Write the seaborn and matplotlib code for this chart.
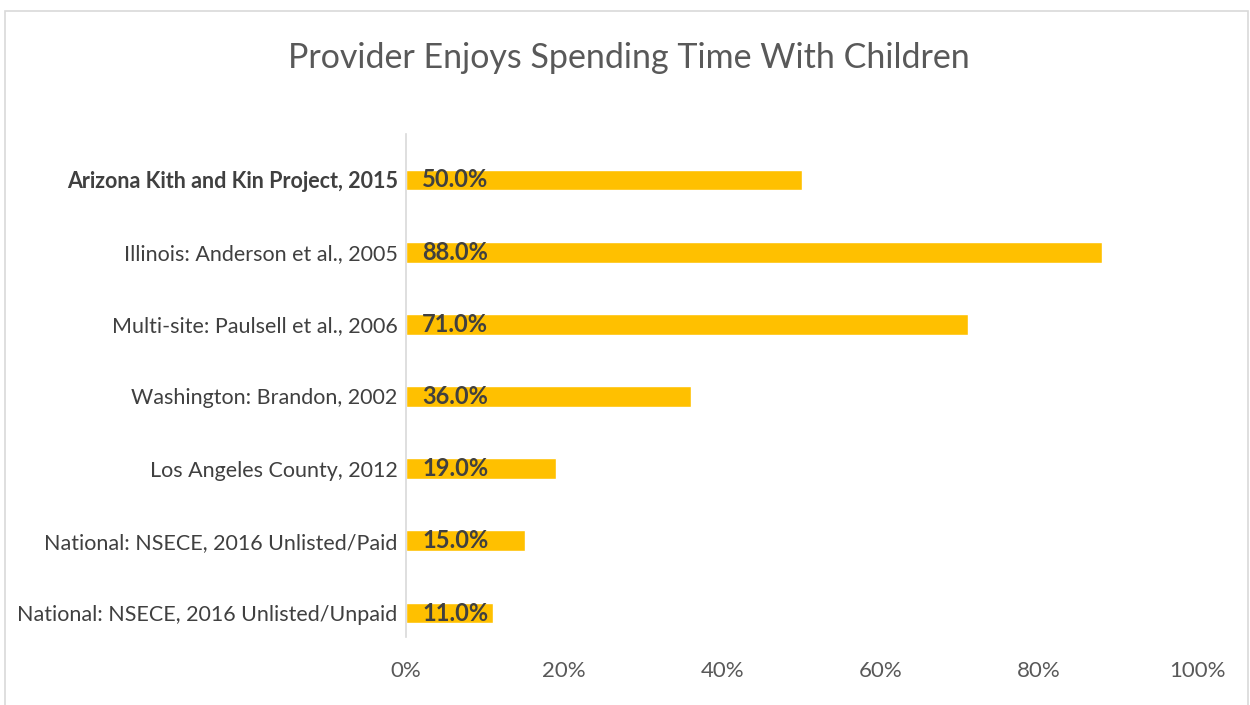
import matplotlib
matplotlib.use('Agg')
import matplotlib.pyplot as plt
import matplotlib.patches as patches
import seaborn as sns
import pandas as pd

# data
studies = ['Arizona Kith and Kin Project, 2015',
           'Illinois: Anderson et al., 2005',
           'Multi-site: Paulsell et al., 2006',
           'Washington: Brandon, 2002',
           'Los Angeles County, 2012',
           'National: NSECE, 2016 Unlisted/Paid',
           'National: NSECE, 2016 Unlisted/Unpaid']
pct = [50.0, 88.0, 71.0, 36.0, 19.0, 15.0, 11.0]
xticks = [0, 20, 40, 60, 80, 100]

df = pd.DataFrame({'study': studies, 'pct': pct})

sns.set_theme(style='white')
plt.rcParams['font.family'] = ['Lato', 'DejaVu Sans']

fig = plt.figure(figsize=(12.5, 7.05), dpi=100)
ax = fig.add_axes([0.3248, 0.0965, 0.6328, 0.7134])

sns.barplot(data=df, x='pct', y='study', order=studies, color='#FFC000',
            saturation=1, width=0.287, ax=ax)

ax.set_xlim(0, 100)
ax.set_ylim(6.332, -0.637)
ax.set_xticks(xticks)
ax.set_xticklabels([f'{t}%' for t in xticks], fontsize=16, color='#595959')
ax.set_xlabel('')
ax.set_ylabel('')
ax.tick_params(axis='x', length=0, pad=17)
ax.tick_params(axis='y', length=0, pad=6)

for lab in ax.get_yticklabels():
    lab.set_fontsize(15.5)
    lab.set_color('#404040')
ax.get_yticklabels()[0].set_fontweight('bold')

for s in ['top', 'right', 'bottom']:
    ax.spines[s].set_visible(False)
ax.spines['left'].set_color('#D9D9D9')
ax.spines['left'].set_linewidth(1.2)

for i, v in enumerate(pct):
    ax.annotate(f'{v:.1f}%', xy=(0, i), xytext=(16, 0), textcoords='offset pixels',
                ha='left', va='center', fontsize=17, fontweight='bold', color='#404040')

fig.text(0.503, 0.918, 'Provider Enjoys Spending Time With Children',
         ha='center', va='center', fontsize=24.5, color='#595959')

# chart border
fig.patches.append(patches.Rectangle((5 / 1250, -0.01), 1243 / 1250, 1 - 11 / 705 + 0.01,
                                     transform=fig.transFigure, fill=False,
                                     edgecolor='#D9D9D9', linewidth=1.2))

fig.savefig('out.png', dpi=100)
